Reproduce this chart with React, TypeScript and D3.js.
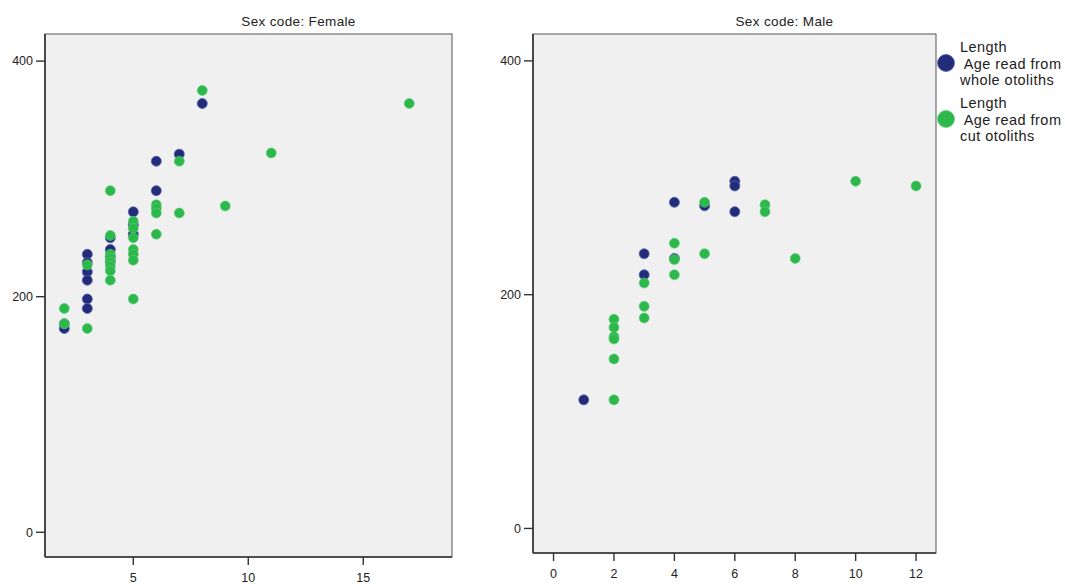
import * as d3 from "d3";
import React from "react";

// ages (x) and lengths (y)
const femaleWholeAge = [2, 2, 3, 3, 3, 3, 3, 3, 4, 4, 4, 4, 5, 5, 5, 6, 6, 7, 8];
const femaleWholeLen = [173, 177, 236, 229, 221, 214, 198, 190, 250, 240, 234, 230, 272, 261, 253, 315, 290, 321, 364];

const femaleCutAge = [2, 2, 3, 3, 4, 4, 4, 4, 4, 4, 4, 4, 5, 5, 5, 5, 5, 5, 5, 6, 6, 6, 6, 7, 7, 8, 9, 11, 17];
const femaleCutLen = [190, 177, 227, 173, 290, 252, 236, 233, 229, 226, 222, 214, 264, 258, 250, 240, 236, 231, 198, 278, 275, 271, 253, 315, 271, 375, 277, 322, 364];

const maleWholeAge = [1, 3, 3, 4, 4, 5, 6, 6, 6];
const maleWholeLen = [110, 235, 217, 279, 231, 276, 297, 293, 271];

const maleCutAge = [2, 2, 2, 2, 2, 2, 3, 3, 3, 4, 4, 4, 5, 5, 7, 7, 8, 10, 12];
const maleCutLen = [179, 172, 164, 162, 145, 110, 210, 190, 180, 244, 230, 217, 279, 235, 277, 271, 231, 297, 293];

const femaleXTicks = [5, 10, 15];
const maleXTicks = [0, 2, 4, 6, 8, 10, 12];
const yTicks = [0, 200, 400];

const legendLabels = [
  ["Length", " Age read from", "whole otoliths"],
  ["Length", " Age read from", "cut otoliths"],
];

const BLUE = "#222c78";
const GREEN = "#2db84b";
const FONT = "'Liberation Sans', Arial, sans-serif";

type PanelProps = {
  title: string;
  left: number;
  right: number;
  top: number;
  bottom: number;
  xDomain: [number, number];
  xTicks: number[];
  wholeAge: number[];
  wholeLen: number[];
  cutAge: number[];
  cutLen: number[];
};

function Panel(p: PanelProps) {
  const x = d3.scaleLinear().domain(p.xDomain).range([p.left, p.right]);
  const y = d3.scaleLinear().domain([-21, 423]).range([p.bottom, p.top]);

  return (
    <g>
      <text x={(p.left + p.right) / 2 + 50} y={26} textAnchor="middle" fontSize={13.5} letterSpacing={0.35} fill="#222" fontFamily={FONT}>
        {p.title}
      </text>
      <rect x={p.left} y={p.top} width={p.right - p.left} height={p.bottom - p.top} fill="#f0f0f0" stroke="#555" strokeWidth={1} />
      <line x1={p.left} x2={p.left} y1={p.top} y2={p.bottom} stroke="#333" strokeWidth={1.6} />
      <line x1={p.left} x2={p.right} y1={p.bottom} y2={p.bottom} stroke="#333" strokeWidth={1.6} />

      {yTicks.map((t) => (
        <g key={"y" + t}>
          <line x1={p.left - 9} x2={p.left} y1={y(t)} y2={y(t)} stroke="#333" strokeWidth={1.4} />
          <text x={p.left - 12} y={y(t)} dy="0.35em" textAnchor="end" fontSize={12.5} fill="#222" fontFamily={FONT}>
            {t}
          </text>
        </g>
      ))}
      {p.xTicks.map((t) => (
        <g key={"x" + t}>
          <line x1={x(t)} x2={x(t)} y1={p.bottom} y2={p.bottom + 8} stroke="#333" strokeWidth={1.4} />
          <text x={x(t)} y={p.bottom + 25} textAnchor="middle" fontSize={12.5} fill="#222" fontFamily={FONT}>
            {t}
          </text>
        </g>
      ))}

      {p.wholeAge.map((a, i) => (
        <circle key={"w" + i} cx={x(a)} cy={y(p.wholeLen[i])} r={5} fill={BLUE} stroke="#5563b0" strokeWidth={0.8} />
      ))}
      {p.cutAge.map((a, i) => (
        <circle key={"c" + i} cx={x(a)} cy={y(p.cutLen[i])} r={5} fill={GREEN} stroke="#5fcf78" strokeWidth={0.6} />
      ))}
    </g>
  );
}

export default function App() {
  return (
    <div style={{ position: "fixed", left: 0, top: 0 }}>
      <svg width={1065} height={584} style={{ display: "block", background: "#fff" }}>
        <Panel
          title="Sex code: Female"
          left={45}
          right={452}
          top={34}
          bottom={557}
          xDomain={[1.16, 18.86]}
          xTicks={femaleXTicks}
          wholeAge={femaleWholeAge}
          wholeLen={femaleWholeLen}
          cutAge={femaleCutAge}
          cutLen={femaleCutLen}
        />
        <Panel
          title="Sex code: Male"
          left={533}
          right={936}
          top={34}
          bottom={553}
          xDomain={[-0.68, 12.66]}
          xTicks={maleXTicks}
          wholeAge={maleWholeAge}
          wholeLen={maleWholeLen}
          cutAge={maleCutAge}
          cutLen={maleCutLen}
        />
        {legendLabels.map((lines, i) => (
          <g key={"lg" + i} transform={`translate(0, ${i * 56})`}>
            <circle cx={946} cy={63} r={8.5} fill={i === 0 ? BLUE : GREEN} stroke={i === 0 ? "#5563b0" : "#5fcf78"} strokeWidth={0.8} />
            {lines.map((s, j) => (
              <text key={j} x={960} y={52 + j * 16.5} fontSize={14.5} letterSpacing={0.45} fill="#222" fontFamily={FONT} style={{ whiteSpace: "pre" }}>
                {s}
              </text>
            ))}
          </g>
        ))}
      </svg>
    </div>
  );
}
